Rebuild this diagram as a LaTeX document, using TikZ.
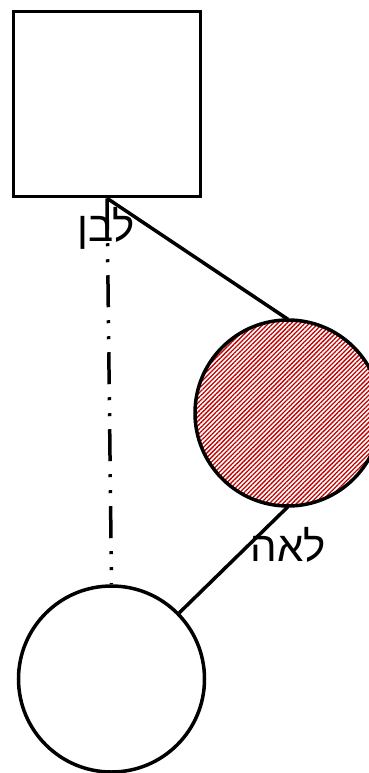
\documentclass[tikz,border=0pt]{standalone}
\usepackage{fontspec}
\newfontfamily\hebfont[Script=Hebrew]{Liberation Sans}
\usetikzlibrary{patterns.meta}
\TeXXeTstate=1
\definecolor{hatchred}{HTML}{C00000}
\tikzset{
  male/.style={
    draw,
    line width=3.5pt,
    minimum width=187pt,
    minimum height=185pt,
    inner sep=0pt
  },
  female/.style={
    draw,
    circle,
    line width=3.5pt,
    minimum size=186pt,
    inner sep=0pt
  },
  hatched/.style={
    pattern={Lines[angle=45,distance=3.2pt,line width=1.3pt]},
    pattern color=hatchred
  },
  relline/.style={
    line width=3.5pt
  },
  descline/.style={
    line width=3.5pt,
    dash pattern=on 32pt off 13pt on 3pt off 13pt on 3pt off 13pt
  },
  personname/.style={
    font=\hebfont\fontsize{42}{46}\selectfont,
    inner sep=0pt
  }
}

\begin{document}
\begin{tikzpicture}[x=1pt,y=-1pt]
    \useasboundingbox (0,0) rectangle (369,773);
    \node[male] (laban) at (107,104) {};
    \node[female, hatched] (leah) at (288,413) {};
    \node[female] (child) at (111.5,679) {};
    \node[personname] (labanname) at (106,228) {\beginR לבן\endR};
    \node[personname] (leahname) at (288,545) {\beginR לאה\endR};
    \draw[relline] (laban.south) -- (leah.north);
    \draw[relline] (leah.south) -- (child);
    \draw[descline] (laban.south) -- (child.north);
\end{tikzpicture}
\end{document}
